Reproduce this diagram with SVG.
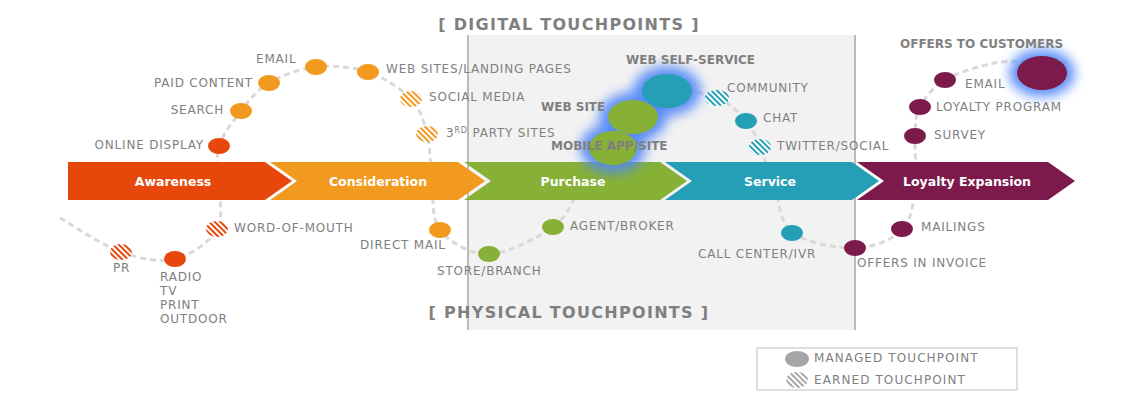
<svg xmlns="http://www.w3.org/2000/svg" width="1140" height="410" viewBox="0 0 1140 410">
<style>
.lbl{font-family:"DejaVu Sans",sans-serif;font-size:12px;letter-spacing:0.8px;fill:#808080}
.blbl{font-family:"DejaVu Sans",sans-serif;font-size:12px;font-weight:bold;fill:#7F7F7F}
.stage{font-family:"DejaVu Sans",sans-serif;font-size:12.5px;font-weight:bold;fill:#FFFFFF;text-anchor:middle}
.title{font-family:"DejaVu Sans",sans-serif;font-size:16px;font-weight:bold;letter-spacing:1.3px;fill:#7F7F7F;text-anchor:middle}
.leg{font-family:"DejaVu Sans",sans-serif;font-size:12px;letter-spacing:1.1px;fill:#808080}
.path{fill:none;stroke:#D9D9D9;stroke-width:3;stroke-dasharray:6 4}
.glow{fill:#4F86F7;opacity:0.9;filter:url(#blur)}
.red{fill:#E8470C}.org{fill:#F29A1F}.grn{fill:#86B136}.teal{fill:#259FB5}.plum{fill:#7B1A4B}
</style>
<defs>
<filter id="blur" x="-60%" y="-60%" width="220%" height="220%"><feGaussianBlur stdDeviation="6"/></filter>
<pattern id="hRed" width="4" height="4" patternUnits="userSpaceOnUse" patternTransform="rotate(45)"><rect width="4" height="4" fill="#fff"/><rect width="4" height="2" fill="#E8470C"/></pattern>
<pattern id="hOrg" width="4" height="4" patternUnits="userSpaceOnUse" patternTransform="rotate(45)"><rect width="4" height="4" fill="#fff"/><rect width="4" height="2" fill="#F29A1F"/></pattern>
<pattern id="hTeal" width="4" height="4" patternUnits="userSpaceOnUse" patternTransform="rotate(45)"><rect width="4" height="4" fill="#fff"/><rect width="4" height="2" fill="#259FB5"/></pattern>
<pattern id="hGray" width="4" height="4" patternUnits="userSpaceOnUse" patternTransform="rotate(45)"><rect width="4" height="4" fill="#fff"/><rect width="4" height="2" fill="#A6A6A6"/></pattern>
</defs>
<rect width="1140" height="410" fill="#FFFFFF"/>
<g id="digital-panel">
<rect x="468" y="35" width="387" height="295" fill="#F2F2F2"/>
<line x1="468" y1="35" x2="468" y2="330" stroke="#A6A6A6" stroke-width="1.5"/>
<line x1="855" y1="35" x2="855" y2="330" stroke="#A6A6A6" stroke-width="1.5"/>
</g>
<text class="title" x="569" y="30">[ DIGITAL TOUCHPOINTS ]</text>
<text class="title" x="569" y="318">[ PHYSICAL TOUCHPOINTS ]</text>
<g id="connectors">
<path class="path" d="M60,218 C70.2,223.7 101.8,245.2 121,252 C140.2,258.8 159,262.8 175,259 C191,255.2 209.7,242.2 217,229 C224.3,215.8 218.7,193.8 219,180 C219.3,166.2 215.3,157.5 219,146 C222.7,134.5 232.7,121.5 241,111 C249.3,100.5 256.5,90.3 269,83 C281.5,75.7 299.5,68.8 316,67 C332.5,65.2 352.2,66.7 368,72 C383.8,77.3 401.2,88.7 411,99 C420.8,109.3 423.5,120.5 427,134 C430.5,147.5 429.8,164 432,180 C434.2,196 430.5,217.7 440,230 C449.5,242.3 470.2,254.5 489,254 C507.8,253.5 537.8,237.7 553,227 C568.2,216.3 570,203.2 580,190 C590,176.8 604.2,160.2 613,148 C621.8,135.8 624,126.5 633,117 C642,107.5 653,94.2 667,91 C681,87.8 703.8,93 717,98 C730.2,103 738.8,112.8 746,121 C753.2,129.2 755.2,135.5 760,147 C764.8,158.5 769.5,175.7 775,190 C780.5,204.3 779.5,223.3 793,233 C806.5,242.7 837.7,248.7 856,248 C874.3,247.3 893.2,239.5 903,229 C912.8,218.5 913,200.5 915,185 C917,169.5 914.2,149 915,136 C915.8,123 915,116.3 920,107 C925,97.7 932.5,87.2 945,80 C957.5,72.8 978.8,66 995,63 C1011.2,60 1029.5,62.2 1042,62 C1054.5,61.8 1065.3,62 1070,62"/>
</g>
<g id="stages">
<g id="stage-awareness"><polygon class="red" points="68,162 265,162 292,181 265,200 68,200"/><text class="stage" x="173" y="186">Awareness</text></g>
<g id="stage-consideration"><polygon class="org" points="270,162 458,162 485,181 458,200 270,200 297,181"/><text class="stage" x="378" y="186">Consideration</text></g>
<g id="stage-purchase"><polygon class="grn" points="464,162 660,162 687,181 660,200 464,200 491,181"/><text class="stage" x="573" y="186">Purchase</text></g>
<g id="stage-service"><polygon class="teal" points="665,162 852,162 879,181 852,200 665,200 692,181"/><text class="stage" x="770" y="186">Service</text></g>
<g id="stage-loyalty"><polygon class="plum" points="857,162 1048,162 1075,181 1048,200 857,200 884,181"/><text class="stage" x="967" y="186">Loyalty Expansion</text></g>
</g>
<g id="glows">
<ellipse class="glow" cx="613" cy="148" rx="33" ry="25"/>
<ellipse class="glow" cx="633" cy="117" rx="34" ry="25"/>
<ellipse class="glow" cx="667" cy="91" rx="34" ry="25"/>
<ellipse class="glow" cx="1042" cy="73" rx="33" ry="24"/>
</g>
<g id="n-pr"><ellipse cx="121" cy="252" rx="11" ry="8" fill="url(#hRed)"/><text class="lbl" x="113" y="272">PR</text></g>
<g id="n-radio"><ellipse class="red" cx="175" cy="259" rx="11" ry="8"/><text class="lbl" x="160" y="281">RADIO</text><text class="lbl" x="160" y="295">TV</text><text class="lbl" x="160" y="309">PRINT</text><text class="lbl" x="160" y="323">OUTDOOR</text></g>
<g id="n-wom"><ellipse cx="217" cy="229" rx="11" ry="8" fill="url(#hRed)"/><text class="lbl" x="234" y="232">WORD-OF-MOUTH</text></g>
<g id="n-online"><ellipse class="red" cx="219" cy="146" rx="11" ry="8"/><text class="lbl" x="204" y="149" text-anchor="end">ONLINE DISPLAY</text></g>
<g id="n-search"><ellipse class="org" cx="241" cy="111" rx="11" ry="8"/><text class="lbl" x="224" y="114" text-anchor="end">SEARCH</text></g>
<g id="n-paid"><ellipse class="org" cx="269" cy="83" rx="11" ry="8"/><text class="lbl" x="253" y="87" text-anchor="end">PAID CONTENT</text></g>
<g id="n-email1"><ellipse class="org" cx="316" cy="67" rx="11" ry="8"/><text class="lbl" x="256" y="63">EMAIL</text></g>
<g id="n-websites"><ellipse class="org" cx="368" cy="72" rx="11" ry="8"/><text class="lbl" x="386" y="73">WEB SITES/LANDING PAGES</text></g>
<g id="n-social"><ellipse cx="411" cy="99" rx="11" ry="8" fill="url(#hOrg)"/><text class="lbl" x="429" y="101">SOCIAL MEDIA</text></g>
<g id="n-3rd"><ellipse cx="427" cy="134" rx="11" ry="8" fill="url(#hOrg)"/><text class="lbl" x="446" y="137">3<tspan font-size="8" dy="-4">RD</tspan><tspan dy="4"> PARTY SITES</tspan></text></g>
<g id="n-directmail"><ellipse class="org" cx="440" cy="230" rx="11" ry="8"/><text class="lbl" x="360" y="249">DIRECT MAIL</text></g>
<g id="n-store"><ellipse class="grn" cx="489" cy="254" rx="11" ry="8"/><text class="lbl" x="437" y="275">STORE/BRANCH</text></g>
<g id="n-agent"><ellipse class="grn" cx="553" cy="227" rx="11" ry="8"/><text class="lbl" x="570" y="230">AGENT/BROKER</text></g>
<g id="n-mobile"><ellipse class="grn" cx="613" cy="148" rx="24" ry="17"/></g>
<g id="n-website"><ellipse class="grn" cx="633" cy="117" rx="25" ry="17"/><text class="blbl" x="541" y="111">WEB SITE</text></g>
<g id="n-selfservice"><ellipse class="teal" cx="667" cy="91" rx="25" ry="17"/><text class="blbl" x="626" y="64">WEB SELF-SERVICE</text></g>
<text class="blbl" x="551" y="150">MOBILE APP/SITE</text>
<g id="n-community"><ellipse cx="717" cy="98" rx="12" ry="8" fill="url(#hTeal)"/><text class="lbl" x="727" y="92">COMMUNITY</text></g>
<g id="n-chat"><ellipse class="teal" cx="746" cy="121" rx="11" ry="8"/><text class="lbl" x="763" y="122">CHAT</text></g>
<g id="n-twitter"><ellipse cx="760" cy="147" rx="11" ry="8" fill="url(#hTeal)"/><text class="lbl" x="777" y="150">TWITTER/SOCIAL</text></g>
<g id="n-callcenter"><ellipse class="teal" cx="792" cy="233" rx="11" ry="8"/><text class="lbl" x="698" y="258">CALL CENTER/IVR</text></g>
<g id="n-invoice"><ellipse class="plum" cx="855" cy="248" rx="11" ry="8"/><text class="lbl" x="857" y="267">OFFERS IN INVOICE</text></g>
<g id="n-mailings"><ellipse class="plum" cx="902" cy="229" rx="11" ry="8"/><text class="lbl" x="921" y="231">MAILINGS</text></g>
<g id="n-survey"><ellipse class="plum" cx="915" cy="136" rx="11" ry="8"/><text class="lbl" x="934" y="139">SURVEY</text></g>
<g id="n-loyaltyprog"><ellipse class="plum" cx="920" cy="107" rx="11" ry="8"/><text class="lbl" x="936" y="111">LOYALTY PROGRAM</text></g>
<g id="n-email2"><ellipse class="plum" cx="945" cy="80" rx="11" ry="8"/><text class="lbl" x="965" y="88">EMAIL</text></g>
<g id="n-offers"><ellipse class="plum" cx="1042" cy="73" rx="25" ry="17"/><text class="blbl" x="900" y="48">OFFERS TO CUSTOMERS</text></g>
<g id="legend">
<rect x="757" y="348" width="260" height="42" fill="#FFFFFF" stroke="#BFBFBF" stroke-width="1"/>
<ellipse cx="797" cy="359" rx="12" ry="8" fill="#A6A6A6"/>
<text class="leg" x="814" y="362">MANAGED TOUCHPOINT</text>
<ellipse cx="797" cy="380" rx="11" ry="8" fill="url(#hGray)"/>
<text class="leg" x="814" y="384">EARNED TOUCHPOINT</text>
</g>
</svg>
